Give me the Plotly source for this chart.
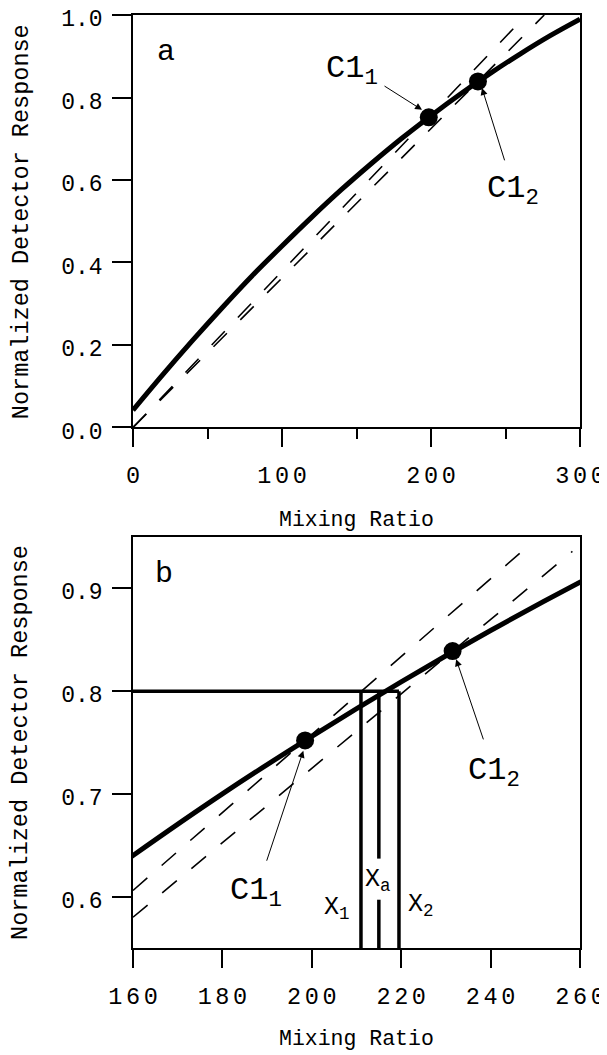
import plotly.graph_objects as go

# ---- data ----
curve_x = [0, 20, 40, 60, 80, 100, 120, 140, 160, 180, 200, 220, 240, 260, 280, 300]
curve_y = [0.042, 0.128, 0.211, 0.291, 0.368, 0.440, 0.510, 0.577, 0.640, 0.700, 0.756, 0.809, 0.859, 0.906, 0.950, 0.990]

cal_x = [198.5, 231.5]          # C1_1, C1_2
cal_y = [0.752, 0.839]

# single-point calibration lines (through origin and C1_1 / C1_2)
dash1_x = [0, 264.0]
dash1_y = [0, 1.0]
dash2_x = [0, 276.0]
dash2_y = [0, 1.0]
# the same lines as drawn in panel b
dash1b_x = [160, 247.0]
dash1b_y = [0.606, 0.936]
dash2b_x = [160, 258.3]
dash2b_y = [0.580, 0.936]

resp_level = 0.80
x1_val, xa_val, x2_val = 211.0, 215.0, 219.5
xa_gap = [0.597, 0.637]

top_xticks = [0, 100, 200, 300]
top_xminor = [50, 150, 250]
top_yticks = [0.0, 0.2, 0.4, 0.6, 0.8, 1.0]
bot_xticks = [160, 180, 200, 220, 240, 260]
bot_yticks = [0.6, 0.7, 0.8, 0.9]

FONT = "Liberation Mono"
BLACK = "black"


def spaced(v):
    # small no-break spaces between digits give the wide-spaced tick labels of the reference
    gap = '<span style="font-size:6px">\u00a0</span>'
    return gap.join(str(v))


fig = go.Figure()

dash_style = dict(color=BLACK, width=1.6, dash="19px,19px")
for (xa, ya), d1x, d1y, d2x, d2y in (
        (("x", "y"), dash1_x, dash1_y, dash2_x, dash2_y),
        (("x2", "y2"), dash1b_x, dash1b_y, dash2b_x, dash2b_y)):
    fig.add_trace(go.Scatter(x=d1x, y=d1y, mode="lines", xaxis=xa, yaxis=ya,
                             line=dash_style, showlegend=False))
    fig.add_trace(go.Scatter(x=d2x, y=d2y, mode="lines", xaxis=xa, yaxis=ya,
                             line=dash_style, showlegend=False))
    fig.add_trace(go.Scatter(x=curve_x, y=curve_y, mode="lines", xaxis=xa, yaxis=ya,
                             line=dict(color=BLACK, width=5, shape="spline"), showlegend=False))

# panel b construction lines
fig.add_trace(go.Scatter(x=[160, x2_val], y=[resp_level, resp_level], mode="lines",
                         xaxis="x2", yaxis="y2", line=dict(color=BLACK, width=3.5), showlegend=False))
fig.add_trace(go.Scatter(x=[x1_val, x1_val], y=[0.55, resp_level], mode="lines",
                         xaxis="x2", yaxis="y2", line=dict(color=BLACK, width=3.5), showlegend=False))
fig.add_trace(go.Scatter(x=[x2_val, x2_val], y=[0.55, resp_level], mode="lines",
                         xaxis="x2", yaxis="y2", line=dict(color=BLACK, width=3.5), showlegend=False))
fig.add_trace(go.Scatter(x=[xa_val, xa_val, None, xa_val, xa_val],
                         y=[0.55, xa_gap[0], None, xa_gap[1], resp_level], mode="lines",
                         xaxis="x2", yaxis="y2", line=dict(color=BLACK, width=3.5), showlegend=False))

for xa, ya in (("x", "y"), ("x2", "y2")):
    fig.add_trace(go.Scatter(x=cal_x, y=cal_y, mode="markers", xaxis=xa, yaxis=ya,
                             marker=dict(color=BLACK, size=18), showlegend=False))

axis_common = dict(showline=True, linecolor=BLACK, linewidth=1.5, mirror=True,
                   showgrid=False, zeroline=False, ticks="outside", tickcolor=BLACK,
                   tickwidth=1.5, ticklabeloverflow="allow", automargin=False)

# the page body adds an 8 px margin, so the figure is 8 px smaller on each axis
fig.update_layout(
    width=599, height=1047,
    margin=dict(l=125, r=27, t=7, b=107, autoexpand=False),
    plot_bgcolor="white", paper_bgcolor="white",
    font=dict(family=FONT, color=BLACK, size=21),
    xaxis=dict(domain=[0, 1], range=[0, 300], anchor="y",
               tickvals=top_xticks, ticktext=[spaced(v) for v in top_xticks],
               ticklen=18, ticklabelstandoff=8, tickfont=dict(size=23.5),
               minor=dict(tickvals=top_xminor, ticks="outside", ticklen=10,
                          tickcolor=BLACK, tickwidth=1.5),
               **axis_common),
    yaxis=dict(domain=[0.5579, 1], range=[0, 1], anchor="x",
               tickvals=top_yticks, ticktext=[f"{v:.1f}" for v in top_yticks],
               ticklen=19, ticklabelstandoff=5, ticklabelshift=3, tickfont=dict(size=23),
               **axis_common),
    xaxis2=dict(domain=[0, 1], range=[160, 260], anchor="y2",
                tickvals=bot_xticks, ticktext=[spaced(v) for v in bot_xticks],
                ticklen=18, ticklabelstandoff=8, tickfont=dict(size=23.5),
                **axis_common),
    yaxis2=dict(domain=[0, 0.4405], range=[0.55, 0.95], anchor="x2",
                tickvals=bot_yticks, ticktext=[f"{v:.1f}" for v in bot_yticks],
                ticklen=19, ticklabelstandoff=5, ticklabelshift=3, tickfont=dict(size=23),
                **axis_common),
)

ann = []
# axis titles
ann.append(dict(text="Mixing Ratio", xref="paper", yref="paper", x=0.5, y=0.4588,
                showarrow=False, font=dict(size=21.5), xanchor="center", yanchor="middle"))
ann.append(dict(text="Mixing Ratio", xref="paper", yref="paper", x=0.5, y=-0.0975,
                showarrow=False, font=dict(size=21.5), xanchor="center", yanchor="middle"))
ann.append(dict(text="Normalized Detector Response", xref="paper", yref="paper",
                x=-0.2506, y=0.779, textangle=-90, showarrow=False, font=dict(size=23.5),
                xanchor="center", yanchor="middle"))
ann.append(dict(text="Normalized Detector Response", xref="paper", yref="paper",
                x=-0.2506, y=0.2208, textangle=-90, showarrow=False, font=dict(size=23.5),
                xanchor="center", yanchor="middle"))
# panel letters
ann.append(dict(text="a", xref="x", yref="y", x=22, y=0.91, showarrow=False, font=dict(size=30)))
ann.append(dict(text="b", xref="x2", yref="y2", x=167, y=0.914, showarrow=False, font=dict(size=30)))
# labels
lab = dict(showarrow=False, font=dict(size=32), xanchor="center", yanchor="middle")
ann.append(dict(text="C1<sub>1</sub>", xref="x", yref="y", x=147.3, y=0.866, **lab))
ann.append(dict(text="C1<sub>2</sub>", xref="x", yref="y", x=254.7, y=0.574, **lab))
ann.append(dict(text="C1<sub>1</sub>", xref="x2", yref="y2", x=187.6, y=0.604, **lab))
ann.append(dict(text="C1<sub>2</sub>", xref="x2", yref="y2", x=240.8, y=0.721, **lab))
xl = dict(showarrow=False, font=dict(size=25), xanchor="center", yanchor="middle")
ann.append(dict(text="X<sub>1</sub>", xref="x2", yref="y2", x=205.6, y=0.588, **xl))
ann.append(dict(text="X<sub>a</sub>", xref="x2", yref="y2", x=214.9, y=0.616, **xl))
ann.append(dict(text="X<sub>2</sub>", xref="x2", yref="y2", x=224.5, y=0.591, **xl))
# arrows (head x,y ; tail ax,ay)
arr = dict(text="", showarrow=True, arrowhead=2, arrowsize=1.4, arrowwidth=1,
           arrowcolor=BLACK, standoff=0, startstandoff=0)
ann.append(dict(xref="x", yref="y", axref="x", ayref="y", x=194, y=0.770, ax=167.8, ay=0.830, **arr))
ann.append(dict(xref="x", yref="y", axref="x", ayref="y", x=234.2, y=0.823, ax=249.7, ay=0.644, **arr))
ann.append(dict(xref="x2", yref="y2", axref="x2", ayref="y2", x=198.1, y=0.742, ax=189.8, ay=0.6335, **arr))
ann.append(dict(xref="x2", yref="y2", axref="x2", ayref="y2", x=232.3, y=0.831, ax=238.5, ay=0.7516, **arr))

fig.update_layout(annotations=ann)

fig.write_html("out.html")
